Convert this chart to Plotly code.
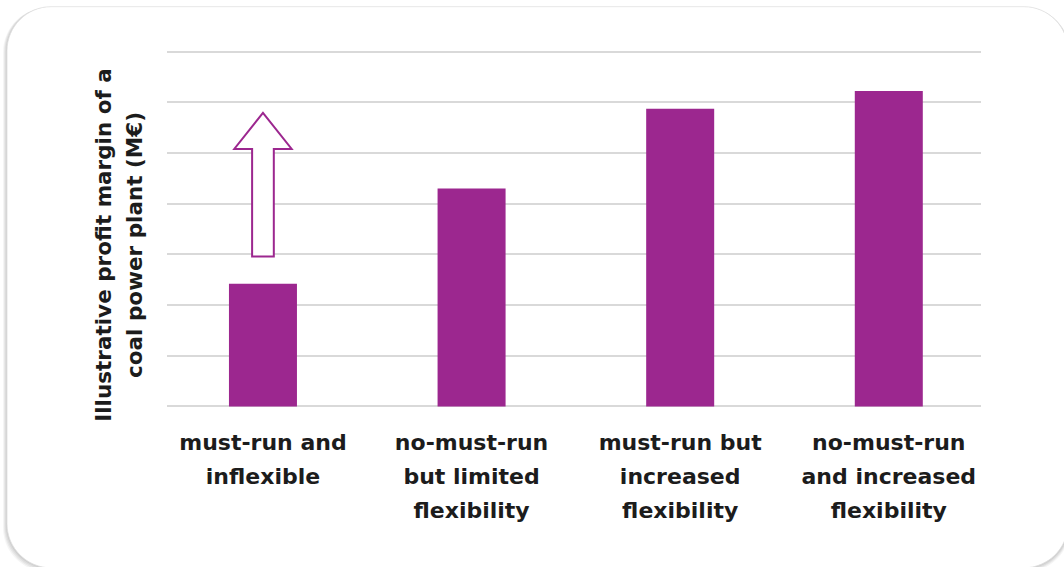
import plotly.graph_objects as go

# Scenario categories and illustrative profit margins (M€)
categories = [
    ["must-run and", "inflexible"],
    ["no-must-run", "but limited", "flexibility"],
    ["must-run but", "increased", "flexibility"],
    ["no-must-run", "and increased", "flexibility"],
]
profit_margin = [2.42, 4.30, 5.87, 6.22]
y_ticks = [0, 1, 2, 3, 4, 5, 6, 7]
y_title = ["Illustrative profit margin of a", "coal power plant (M€)"]

BAR_COLOR = "#9c278f"
TEXT_COLOR = "#1c1c1c"
FONT = "DejaVu Sans"

W, H = 1064, 567
L, R, T, B = 167, 83, 50.3, 158.8  # margins in px
PW, PH = W - L - R, H - T - B


def px(x, y):
    """Convert pixel position to paper coordinates."""
    return (x - L) / PW, (H - B - y) / PH


def lines(parts, size):
    """Join text lines, drawing glyphs at `size` px while the parent font sets line spacing."""
    return "<br>".join(f"<span style='font-size:{size}px'>{p}</span>" for p in parts)


def rounded_rect(x0, y0, x1, y1, r):
    a, b = px(x0 + r, y0), px(x1 - r, y0)
    c, d = px(x1, y0 + r), px(x1, y1 - r)
    e, f = px(x1 - r, y1), px(x0 + r, y1)
    g, h = px(x0, y1 - r), px(x0, y0 + r)
    tl, tr, br, bl = px(x0, y0), px(x1, y0), px(x1, y1), px(x0, y1)
    k = 0.55

    def lerp(p, q, t):
        return (p[0] + (q[0] - p[0]) * t, p[1] + (q[1] - p[1]) * t)

    def fmt(p):
        return f"{p[0]:.5f},{p[1]:.5f}"

    path = f"M{fmt(a)} L{fmt(b)} "
    path += f"C{fmt(lerp(b, tr, k))} {fmt(lerp(c, tr, k))} {fmt(c)} L{fmt(d)} "
    path += f"C{fmt(lerp(d, br, k))} {fmt(lerp(e, br, k))} {fmt(e)} L{fmt(f)} "
    path += f"C{fmt(lerp(f, bl, k))} {fmt(lerp(g, bl, k))} {fmt(g)} L{fmt(h)} "
    path += f"C{fmt(lerp(h, tl, k))} {fmt(lerp(a, tl, k))} {fmt(a)} Z"
    return path


x_pos = list(range(len(categories)))

fig = go.Figure(
    go.Bar(
        x=x_pos,
        y=profit_margin,
        width=0.326,
        marker=dict(color=BAR_COLOR, line=dict(width=0)),
        hoverinfo="skip",
    )
)

shapes = []
# soft drop shadow behind the card
for i, op in enumerate([0.04, 0.05, 0.05, 0.06]):
    off = 4 - i
    shapes.append(dict(
        type="path", xref="paper", yref="paper", layer="below",
        path=rounded_rect(7 - off, 7 + off * 0.3, 1068 + off * 0.5, 568 + off, 44),
        fillcolor=f"rgba(0,0,0,{op})", line=dict(width=0),
    ))
# white card
shapes.append(dict(
    type="path", xref="paper", yref="paper", layer="below",
    path=rounded_rect(7, 7, 1068, 568, 44),
    fillcolor="white", line=dict(color="#e0e0e0", width=0.8),
))

# hollow upward arrow above the first bar
sx, hx = 0.052, 0.1375
y_bot, y_head, y_tip = 2.96, 5.08, 5.79
arrow = (
    f"M{-sx},{y_bot} L{sx},{y_bot} L{sx},{y_head} L{hx},{y_head} "
    f"L0,{y_tip} L{-hx},{y_head} L{-sx},{y_head} Z"
)
shapes.append(dict(
    type="path", xref="x", yref="y", path=arrow,
    fillcolor="white", line=dict(color=BAR_COLOR, width=2),
))

fig.update_layout(
    width=W, height=H,
    margin=dict(l=L, r=R, t=T, b=B),
    paper_bgcolor="white",
    plot_bgcolor="rgba(0,0,0,0)",
    showlegend=False,
    shapes=shapes,
    font=dict(family=FONT, color=TEXT_COLOR),
    xaxis=dict(
        range=[-0.46, 3.442],
        tickmode="array",
        tickvals=x_pos,
        ticktext=[lines(c, 22) for c in categories],
        showgrid=False,
        zeroline=False,
        showline=False,
        ticks="outside",
        ticklen=10,
        tickcolor="rgba(0,0,0,0)",
        tickfont=dict(family=FONT, size=26, color=TEXT_COLOR, weight="bold"),
        fixedrange=True,
    ),
    yaxis=dict(
        range=[-0.03, 7.03],
        tickmode="array",
        tickvals=y_ticks,
        showticklabels=False,
        showgrid=True,
        gridcolor="#d9d9d9",
        gridwidth=2,
        zeroline=False,
        showline=False,
        fixedrange=True,
    ),
    annotations=[dict(
        text=lines(y_title, 21.5),
        xref="paper", yref="paper",
        x=px(119, 0)[0], y=px(0, 245)[1],
        xanchor="center", yanchor="middle",
        textangle=-90, showarrow=False,
        font=dict(family=FONT, size=24, color=TEXT_COLOR, weight="bold"),
    )],
)

fig.write_html("out.html")
